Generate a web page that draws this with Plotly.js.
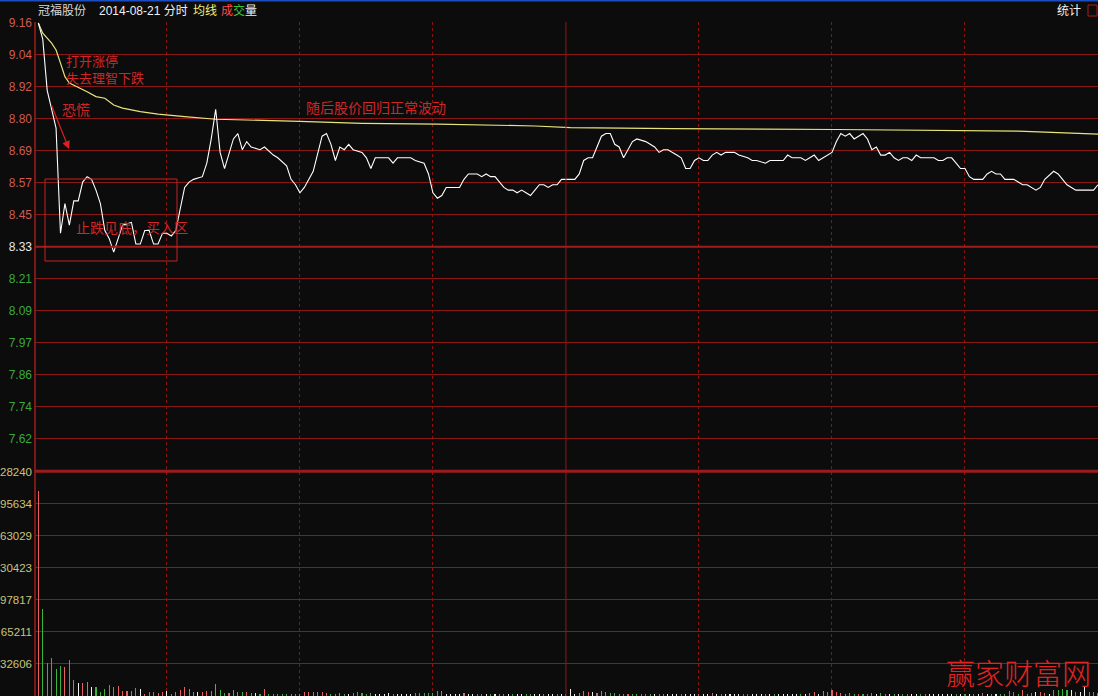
<!DOCTYPE html>
<html><head><meta charset="utf-8">
<script src="https://cdn.plot.ly/plotly-3.0.1.min.js"></script>
<style>html,body{margin:0;padding:0;background:#0c0c0c;overflow:hidden}#chart{width:1098px;height:696px}</style>
</head><body><div id="chart"></div>
<script>
// ---------- data ----------
const stockName = '冠福股份';
const tradeDate = '2014-08-21';
const prevClose = 8.33;
const limitUp = 9.16;
const priceTickText = ['7.62','7.74','7.86','7.97','8.09','8.21','8.33','8.45','8.57','8.69','8.80','8.92','9.04','9.16'];
const volMax = 228240;
// volume tick labels as they appear in the (left-clipped) reference panel
const volTickText = ['32606','65211','97817','30423','63029','95634','28240'];
const sessionTicks = [30,60,90,150,180,210];
const middayBreak = 120;

const priceTime = [1,2,3,4,5,6,7,8,9,10,11,12,13,14,15,16,17,18,19,20,22,23,24,25,26,27,28,29,30,31,32,33,34,35,36,38,39,40,41,42,43,45,46,47,48,49,51,52,54,55,57,58,59,60,61,63,64,65,66,67,68,69,70,71,72,74,75,76,77,80,81,82,85,86,88,89,90,91,92,93,95,96,97,98,100,101,102,103,104,105,106,107,108,109,110,111,112,113,114,115,116,117,118,119,120,122,123,124,125,126,127,128,129,130,131,132,133,134,135,136,138,140,141,142,143,145,146,147,148,149,150,151,152,153,154,155,156,158,159,161,162,163,165,166,167,169,170,171,173,174,175,176,177,179,180,181,182,183,184,185,186,187,188,189,190,191,192,193,194,195,196,197,198,199,200,203,204,205,206,207,208,209,210,211,212,214,215,216,217,218,219,221,222,223,224,225,226,227,228,230,231,232,233,234,235,239,240];
const price = [9.16,9.10,8.91,8.84,8.77,8.38,8.49,8.41,8.50,8.50,8.57,8.59,8.58,8.54,8.49,8.39,8.36,8.31,8.36,8.41,8.42,8.34,8.34,8.39,8.39,8.34,8.34,8.38,8.38,8.37,8.39,8.47,8.55,8.57,8.58,8.59,8.64,8.73,8.84,8.68,8.62,8.73,8.75,8.69,8.72,8.70,8.69,8.70,8.67,8.66,8.63,8.58,8.56,8.53,8.55,8.61,8.67,8.74,8.75,8.71,8.65,8.70,8.69,8.71,8.69,8.68,8.66,8.62,8.66,8.66,8.64,8.66,8.66,8.65,8.64,8.60,8.53,8.51,8.52,8.55,8.55,8.55,8.58,8.60,8.60,8.59,8.60,8.59,8.59,8.57,8.55,8.54,8.54,8.53,8.54,8.53,8.52,8.54,8.56,8.56,8.55,8.56,8.56,8.58,8.58,8.58,8.60,8.65,8.66,8.66,8.70,8.74,8.75,8.75,8.71,8.70,8.66,8.69,8.72,8.73,8.72,8.70,8.68,8.69,8.69,8.67,8.66,8.62,8.62,8.65,8.66,8.65,8.65,8.67,8.68,8.67,8.68,8.68,8.67,8.66,8.65,8.65,8.64,8.65,8.65,8.65,8.67,8.66,8.66,8.65,8.66,8.67,8.65,8.67,8.68,8.72,8.75,8.74,8.75,8.73,8.74,8.75,8.73,8.69,8.70,8.67,8.67,8.68,8.66,8.65,8.66,8.66,8.65,8.67,8.66,8.66,8.65,8.65,8.66,8.66,8.64,8.62,8.62,8.59,8.58,8.58,8.60,8.61,8.60,8.60,8.58,8.58,8.57,8.56,8.56,8.55,8.54,8.55,8.58,8.61,8.60,8.58,8.56,8.55,8.54,8.54,8.56];

const avgTime = [1,2,4,5,6,7,8,10,12,14,16,18,20,24,28,34,39,41,60,74,91,113,121,144,181,211,222,228,233,237,240];
const avgPrice = [9.160,9.122,9.085,9.060,9.011,8.961,8.937,8.922,8.905,8.887,8.881,8.856,8.844,8.831,8.822,8.813,8.807,8.803,8.795,8.788,8.785,8.778,8.772,8.768,8.765,8.762,8.759,8.755,8.751,8.748,8.748];

const volume = [
208400,88450,33860,38940,27450,30810,29790,36600,16270,13520,
13520,14540,9460,9460,4370,7120,11180,9460,10470,5390,
5390,5390,8440,7120,2030,4370,4370,3360,4370,5390,
2030,4370,6100,8850,7120,4370,4370,4370,5080,5080,
12200,6100,2750,3360,6100,4370,4370,4370,2750,3360,
2030,7120,2030,2030,2030,2030,2030,2030,2030,2030,
3760,3760,4070,4370,4070,3050,2030,2030,2750,2030,
2030,2750,3760,2750,2030,2750,2030,2030,1730,2750,
1730,2030,2030,1730,2030,2750,2750,3360,3050,3360,
5390,5390,2030,2030,2030,2030,2750,2030,1730,2030,
2030,1730,1730,2030,2030,2030,2030,1730,2030,1730,
2030,1730,2030,1730,2030,2030,1730,2030,2030,2030,
7120,1730,3050,5080,4370,4070,3050,5080,4070,3050,
3050,1730,1730,1730,1730,1730,1730,2030,1730,1730,
1730,2030,2030,2030,2030,2030,2030,2030,2030,2030,
2030,2030,3050,2030,2030,2030,2030,2030,2030,2030,
2340,2030,2030,2030,2030,2030,2030,2030,2030,2030,
2030,2030,2030,2030,2750,4070,2030,5390,4070,6100,
4070,3050,2340,3050,1730,2030,2340,2030,3050,2030,
3050,2340,1730,2030,2030,2030,2030,2030,2030,2030,
2340,2340,2030,2030,2030,2030,2030,2030,2030,2030,
2030,2030,2030,3050,2030,2340,2030,2030,2340,5390,
4070,2340,6100,2340,3050,4070,4070,3050,2030,6100,
6100,6810,6100,6100,4070,4070,8850,4070,4070,3050];
// 1 = up tick (red), -1 = down tick (green), 0 = unchanged (white)
const volDir = [
1,-1,-1,-1,-1,-1,1,-1,1,0,
1,1,0,-1,-1,-1,-1,-1,1,1,
1,1,-1,0,1,-1,-1,1,1,0,
-1,1,1,1,1,1,0,1,1,1,
1,-1,-1,1,1,1,-1,1,-1,0,
-1,1,-1,-1,-1,-1,-1,-1,-1,1,
1,1,1,1,1,1,-1,-1,1,-1,
0,-1,-1,-1,-1,-1,0,0,0,0,
-1,0,0,0,0,-1,-1,-1,-1,-1,
-1,1,0,0,0,0,1,0,0,-1,
-1,0,-1,0,-1,-1,0,-1,0,0,
-1,-1,0,0,-1,0,0,-1,0,-1,
0,0,1,1,1,0,1,1,1,-1,
-1,-1,-1,1,-1,-1,-1,-1,-1,0,
-1,1,0,0,0,-1,0,0,0,1,
0,0,1,0,-1,0,0,0,0,-1,
-1,0,0,0,-1,0,-1,0,0,0,
0,0,-1,0,1,1,0,1,1,1,
1,1,1,-1,-1,1,-1,-1,-1,0,
-1,-1,0,-1,0,-1,-1,0,0,-1,
-1,0,0,0,0,0,0,-1,0,-1,
0,-1,0,1,0,1,0,-1,-1,-1,
-1,-1,1,1,-1,0,1,1,0,-1,
-1,-1,-1,0,-1,0,0,-1,-1,-1];

// ---------- layout helpers ----------
const W = 1098, H = 696, ML = 35, MT = 22, MR = 0, MB = 0;
const PW = W - ML - MR, PH = H - MT - MB;
const px = x => (x - ML) / PW;
const py = y => (MT + PH - y) / PH;

const RED = '#d02626', GRID = '#8a1818';
const upC = '#e86060', dnC = '#3cb43c', flatC = '#f0f0f0';

const step = (limitUp - prevClose) / 7;
const priceTickVals = priceTickText.map((t, k) => prevClose + (k - 6) * step);
const priceTickLbl = priceTickText.map((t, k) => {
  const c = k < 6 ? '#3aa83a' : (k === 6 ? '#e8e8e8' : '#d05a50');
  return '<span style="color:' + c + '">' + t + '</span>';
});
const vStep = volMax / 7;
const volTickVals = volTickText.map((t, k) => (k + 1) * vStep);

const minutes = volume.map((v, i) => i + 1);
const barColors = volDir.map(d => d > 0 ? upC : (d < 0 ? dnC : flatC));

const priceLow = prevClose - 7 * step;

const traces = [
  {x: minutes, y: volume, type: 'bar', xaxis: 'x', yaxis: 'y2', width: 0.24,
   marker: {color: barColors, line: {width: 0}}, hoverinfo: 'skip'},
  {x: avgTime, y: avgPrice, type: 'scatter', mode: 'lines', xaxis: 'x', yaxis: 'y',
   line: {color: '#e8e47c', width: 1.2}, hoverinfo: 'skip'},
  {x: priceTime, y: price, type: 'scatter', mode: 'lines', xaxis: 'x', yaxis: 'y',
   line: {color: '#ffffff', width: 1.1}, hoverinfo: 'skip'}
];

const dPriceBot = (H - 470.5) / PH;
const dVolTop = (H - 471.5) / PH;

const fontCJK = 'Noto Sans CJK SC, sans-serif';
function note(text, x, y, opts) {
  return Object.assign({text: text, xref: 'paper', yref: 'paper', x: px(x), y: py(y),
    xanchor: 'left', yanchor: 'middle', showarrow: false, align: 'left',
    font: {family: fontCJK, size: 14, color: RED}}, opts || {});
}
const hdr = (text, x, color) => note(text, x, 11, {font: {family: 'Liberation Sans, ' + fontCJK, size: 12, color: color}});
const smallNote = {font: {family: fontCJK, size: 13, color: RED}};

const layout = {
  width: W, height: H,
  margin: {l: ML, r: MR, t: MT, b: MB, pad: 0},
  paper_bgcolor: '#0c0c0c', plot_bgcolor: '#0c0c0c',
  showlegend: false, bargap: 0,
  font: {family: 'Liberation Sans, Arial, sans-serif', size: 12},
  xaxis: {anchor: 'y2', range: [0.25, 240.0], showticklabels: false, ticks: '',
    tickmode: 'array', tickvals: sessionTicks, showgrid: true, gridcolor: '#861414',
    griddash: 'dot', gridwidth: 1, zeroline: false, showline: false, fixedrange: true},
  yaxis: {domain: [dPriceBot, 1], range: [priceLow, limitUp + 0.0037], anchor: 'x',
    tickmode: 'array', tickvals: priceTickVals, ticktext: priceTickLbl, ticks: '',
    ticklabelstandoff: 2,
    showgrid: true, gridcolor: GRID, gridwidth: 1, zeroline: false, showline: false,
    tickfont: {family: 'Liberation Sans, Arial', size: 12}},
  yaxis2: {domain: [0, dVolTop], range: [0, volMax], anchor: 'x',
    tickmode: 'array', tickvals: volTickVals, ticktext: volTickText, ticks: '',
    ticklabelstandoff: 2,
    showgrid: true, gridcolor: GRID, gridwidth: 1, zeroline: false, showline: false,
    tickfont: {family: 'Liberation Sans, Arial', size: 11.5, color: '#c8c47c'}},
  shapes: [
    {type: 'line', xref: 'paper', yref: 'paper', x0: 0, x1: 0, y0: 0, y1: 1, line: {color: '#a01c1c', width: 1.5}},
    {type: 'line', xref: 'x', yref: 'paper', x0: middayBreak, x1: middayBreak, y0: 0, y1: 1, line: {color: '#8e1818', width: 1}},
    {type: 'line', xref: 'paper', yref: 'y', x0: 0, x1: 1, y0: prevClose, y1: prevClose, line: {color: '#a01c1c', width: 2}},
    {type: 'line', xref: 'paper', yref: 'paper', x0: 0, x1: 1, y0: py(471.2), y1: py(471.2), line: {color: '#9a1c1c', width: 3}},
    {type: 'line', xref: 'paper', yref: 'paper', x0: px(0), x1: px(1098), y0: py(0.5), y1: py(0.5), line: {color: '#1c4cc0', width: 2}},
    {type: 'rect', xref: 'paper', yref: 'paper', x0: px(1088), x1: px(1097), y0: py(16), y1: py(5), line: {color: '#a81c1c', width: 1}},
    {type: 'rect', xref: 'paper', yref: 'paper', x0: px(45), x1: px(177), y0: py(261), y1: py(179), line: {color: '#c82020', width: 1}}
  ],
  annotations: [
    hdr(stockName, 36, '#d8d8d8'),
    hdr(tradeDate + ' 分时', 97, '#f0f0f0'),
    hdr('均线', 191, '#f0f07a'),
    hdr('成', 219, '#ff4a4a'),
    hdr('交', 231, '#3cc03c'),
    hdr('量', 243, '#f0f0f0'),
    hdr('统计', 1055, '#f0f0f0'),
    note('打开涨停', 64, 60.5, smallNote),
    note('失去理智下跌', 64, 77.5, smallNote),
    note('恐慌', 60, 109),
    note('随后股价回归正常波动', 304, 107),
    note('止跌见底，买入区', 74, 227),
    {text: '', xref: 'paper', yref: 'paper', x: px(69), y: py(149), ax: -18, ay: -45,
     showarrow: true, arrowhead: 2, arrowsize: 1.3, arrowwidth: 1.2, arrowcolor: '#e02020', standoff: 0},
    {text: '赢家财富网', xref: 'paper', yref: 'paper', x: px(1018), y: py(672), xanchor: 'center', yanchor: 'middle',
     showarrow: false, font: {family: fontCJK, size: 29, weight: 300, color: '#e02424'}}
  ]
};

Plotly.newPlot('chart', traces, layout, {displayModeBar: false, staticPlot: true});
</script>
</body></html>
